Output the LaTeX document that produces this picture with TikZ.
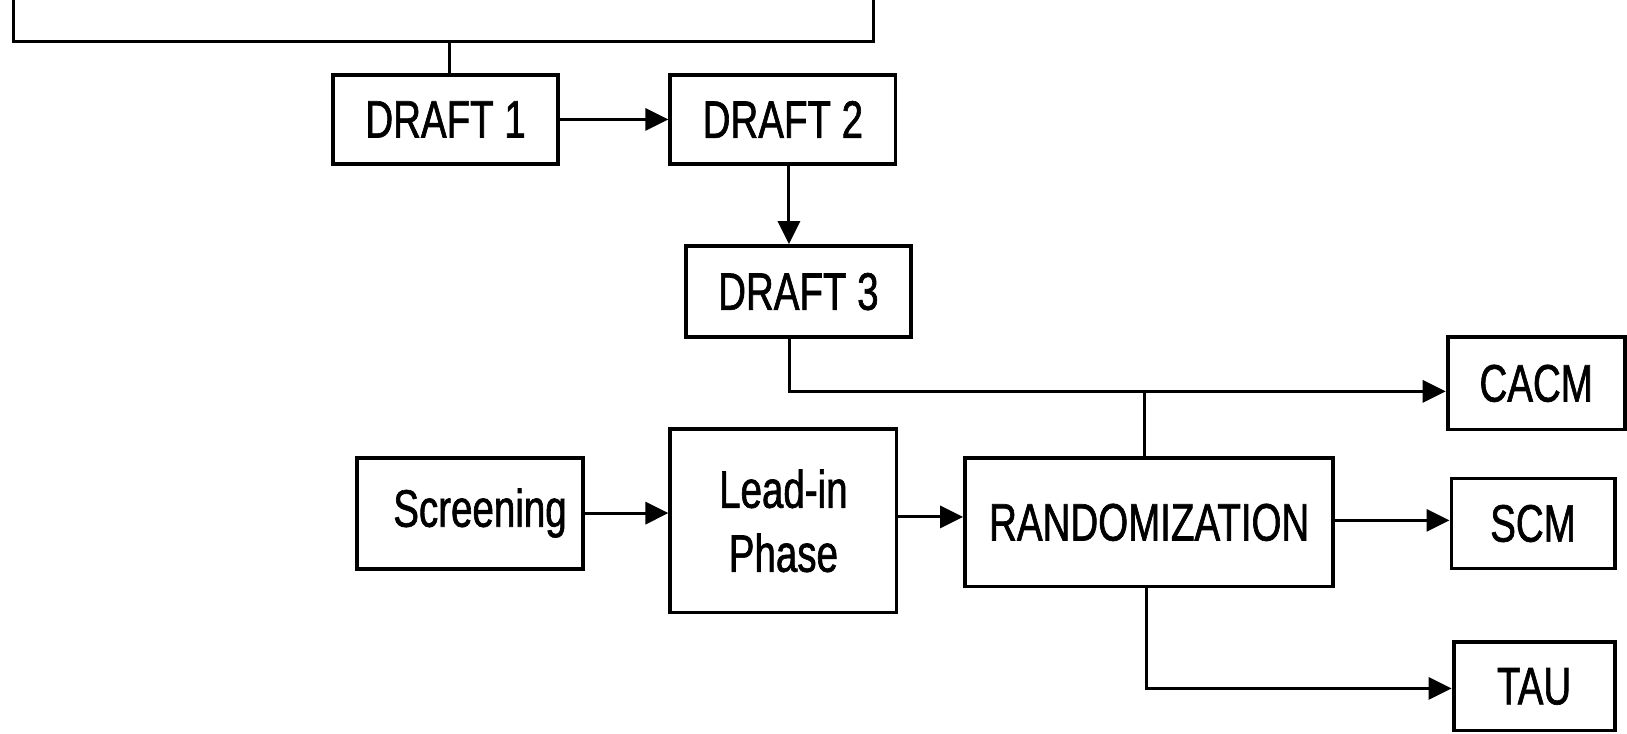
\documentclass[tikz,border=0pt]{standalone}
\usepackage{fontspec}
\setmainfont{Liberation Sans}[FakeStretch=0.73, FakeBold=1.2]
\usepackage{tikz}
\usetikzlibrary{arrows.meta, positioning, calc}

\begin{document}
\begin{tikzpicture}[
    x=0.01cm, y=-0.01cm,
    box/.style={rectangle, draw, line width=1.1pt, inner sep=0pt, align=center, font=\fontsize{15}{18.2}\selectfont},
    arrow/.style={-{Triangle[length=0.23cm, width=0.22cm]}, line width=0.9pt},
    link/.style={line width=0.9pt}
]
    \useasboundingbox (0,0) rectangle (1627,733);

    % drafts
    \node[box, minimum width=2.25cm, minimum height=0.89cm] (d1) at (445.6,119.4) {DRAFT 1};
    \node[box, minimum width=2.25cm, minimum height=0.89cm] (d2) at (782.9,119.4) {DRAFT 2};
    \node[box, minimum width=2.25cm, minimum height=0.91cm] (d3) at (798.4,291.6) {DRAFT 3};

    % trial flow
    \node[box, minimum width=2.26cm, minimum height=1.11cm] (scr) at (470,513.1) {\hspace{0.2cm}Screening};
    \node[box, minimum width=2.26cm, minimum height=1.83cm] (lead) at (783.4,520.9) {Lead-in\\Phase};
    \node[box, minimum width=3.68cm, minimum height=1.28cm] (rand) at (1149.2,522.4) {RANDOMIZATION};

    % arms
    \node[box, minimum width=1.77cm, minimum height=0.92cm] (cacm) at (1536.2,383.4) {CACM};
    \node[box, minimum width=1.63cm, minimum height=0.90cm] (scm) at (1533,523.5) {SCM};
    \node[box, minimum width=1.61cm, minimum height=0.88cm] (tau) at (1534.1,686.4) {TAU};

    % bracket on top
    \coordinate (brk) at (449.3,41.5);
    \draw[link] (13.5,0) |- (873.6,41.5) -- (873.6,0);
    \draw[link] (brk) -- (brk |- d1.north);

    \draw[arrow] (d1) -- (d2);
    \draw[arrow] ([xshift=0.06cm]d2.south) -- ([xshift=0.06cm]d2.south |- d3.north);
    \draw[arrow] ([xshift=-0.09cm]d3.south) |- ([yshift=-0.08cm]cacm.west);

    \coordinate (jn) at (1144.5,391.2);
    \draw[link] (jn |- rand.north) -- (jn);

    \draw[arrow] (scr.east) -- (scr.east -| lead.west);
    \draw[arrow] ([yshift=0.04cm]lead.east) -- ([yshift=0.04cm]lead.east -| rand.west);
    \draw[arrow] ([yshift=0.02cm]rand.east) -- ([yshift=0.02cm]rand.east -| scm.west);
    \draw[arrow] ([xshift=-0.03cm]rand.south) |- ([yshift=-0.02cm]tau.west);
\end{tikzpicture}
\end{document}
